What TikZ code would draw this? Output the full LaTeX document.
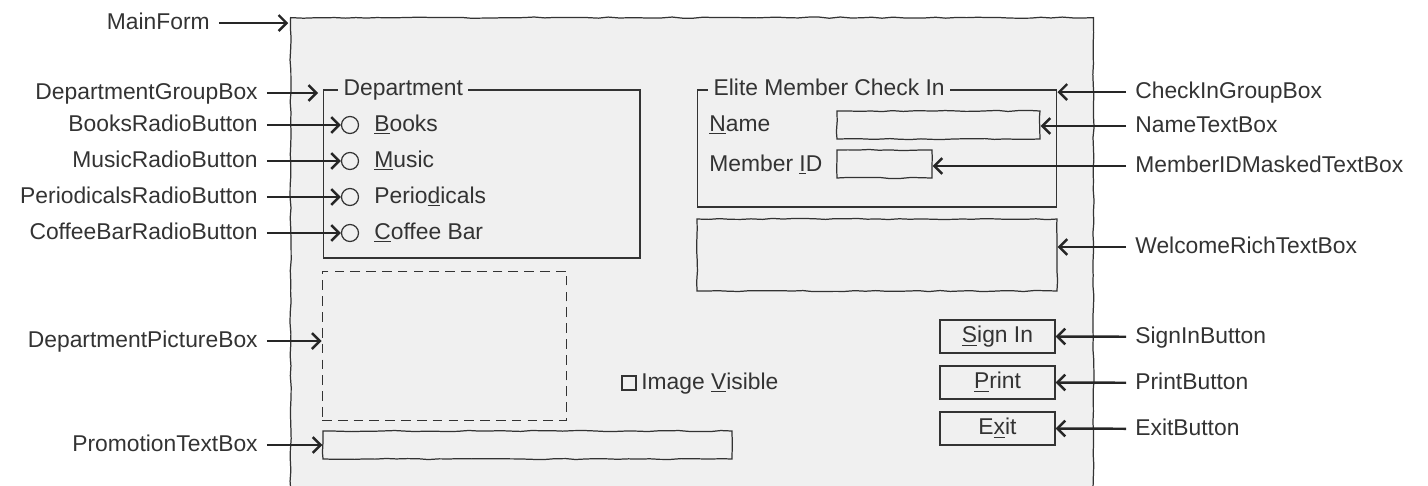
\documentclass[tikz,border=0pt]{standalone}
\usepackage{fontspec}
\setmainfont{Liberation Sans}
\usetikzlibrary{arrows.meta,decorations.pathmorphing}
\definecolor{formgray}{HTML}{F0F0F0}
\definecolor{inkgray}{HTML}{333333}
\pgfmathsetseed{7}

\begin{document}
\begin{tikzpicture}[x=0.02cm, y=-0.02cm,
    font=\fontsize{13}{15}\selectfont, text=inkgray,
    wobbly/.style={decorate, decoration={random steps, segment length=6pt, amplitude=0.35pt}},
    formbox/.style={draw=inkgray, fill=formgray, line width=0.7pt, wobbly, anchor=north west},
    groupbox/.style={draw=inkgray, line width=0.6pt},
    textbox/.style={draw=inkgray, line width=0.7pt, wobbly, minimum height=0.56cm},
    button/.style={draw=inkgray, line width=0.7pt, minimum width=2.3cm, minimum height=0.62cm, text height=9.5pt, text depth=2.5pt},
    radio/.style={circle, draw=inkgray, line width=0.7pt, minimum size=0.34cm, inner sep=0pt},
    title/.style={fill=formgray, inner sep=3pt, anchor=west, text height=9.5pt, text depth=2.5pt},
    caption/.style={anchor=west, inner sep=0pt, text height=9.5pt, text depth=2.5pt},
    leftlbl/.style={anchor=east, inner sep=0pt, text height=9.5pt, text depth=2.5pt},
    rightlbl/.style={anchor=west, inner sep=0pt, text height=9.5pt, text depth=2.5pt},
    arrow/.style={-{Straight Barb[length=4.5pt, width=9pt]}, line width=1.4pt, draw=black!85, shorten <=5pt}
  ]
  \useasboundingbox (0,0) rectangle (1428,485);
  \clip (0,0) rectangle (1428,485);

  % Main form (runs off the bottom)
  \node[formbox, minimum width=16.06cm, minimum height=10cm] (mainform) at (290,17) {};

  % Department group
  \node[groupbox, minimum width=6.34cm, minimum height=3.36cm] (deptgroup) at (481.5,174) {};
  \node[title] (depttitle) at (338,89) {Department};
  \node[radio] (booksradio) at (350,125) {};
  \node[caption] (bookstext) at (374,125) {\underline{B}ooks};
  \node[radio] (musicradio) at (350,161) {};
  \node[caption] (musictext) at (374,161) {\underline{M}usic};
  \node[radio] (periodicalsradio) at (350,197) {};
  \node[caption] (periodicalstext) at (374,197) {Perio\underline{d}icals};
  \node[radio] (coffeeradio) at (350,233) {};
  \node[caption] (coffeetext) at (374,233) {\underline{C}offee Bar};

  % Picture, check box, promotion
  \node[draw=inkgray, line width=0.55pt, dash pattern=on 5.5pt off 3.5pt, minimum width=4.9cm, minimum height=2.98cm] (deptpicture) at (444.5,345.5) {};
  \node[draw=inkgray, line width=0.7pt, minimum size=0.28cm, inner sep=0pt] (imagecheck) at (629,383) {};
  \node[caption] (imagetext) at (641,383) {Image \underline{V}isible};
  \node[textbox, minimum width=8.18cm] (promotion) at (527.5,445) {};

  % Check in group
  \node[groupbox, minimum width=7.2cm, minimum height=2.34cm] (checkingroup) at (877,148.5) {};
  \node[title] (checkintitle) at (708,89) {Elite Member Check In};
  \node[caption] (nametext) at (709,125) {\underline{N}ame};
  \node[textbox, minimum width=4.06cm] (namebox) at (938.5,125) {};
  \node[caption] (memberidtext) at (709,165) {Member \underline{I}D};
  \node[textbox, minimum width=1.9cm] (memberidbox) at (884.5,164) {};
  \node[textbox, minimum width=7.2cm, minimum height=1.44cm] (welcomebox) at (877,255) {};

  % Buttons
  \node[button] (signin) at (997.5,336.5) {\underline{S}ign In};
  \node[button] (print) at (997.5,382.5) {\underline{P}rint};
  \node[button] (exit) at (997.5,428.5) {E\underline{x}it};

  % Left labels
  \node[leftlbl] (mainformlbl) at (210,23) {MainForm};
  \node[leftlbl] (deptgrouplbl) at (258,93) {DepartmentGroupBox};
  \node[leftlbl] (bookslbl) at (258,125) {BooksRadioButton};
  \node[leftlbl] (musiclbl) at (258,161) {MusicRadioButton};
  \node[leftlbl] (periodicalslbl) at (258,197) {PeriodicalsRadioButton};
  \node[leftlbl] (coffeelbl) at (258,233) {CoffeeBarRadioButton};
  \node[leftlbl] (picturelbl) at (258,341) {DepartmentPictureBox};
  \node[leftlbl] (promotionlbl) at (258,445) {PromotionTextBox};

  % Right labels
  \node[rightlbl] (checkinlbl) at (1135,92) {CheckInGroupBox};
  \node[rightlbl] (namelbl) at (1135,126) {NameTextBox};
  \node[rightlbl] (memberidlbl) at (1135,166) {MemberIDMaskedTextBox};
  \node[rightlbl] (welcomelbl) at (1135,247) {WelcomeRichTextBox};
  \node[rightlbl] (signinlbl) at (1135,337) {SignInButton};
  \node[rightlbl] (printlbl) at (1135,383) {PrintButton};
  \node[rightlbl] (exitlbl) at (1135,429) {ExitButton};

  % Arrows from the left
  \draw[arrow, shorten >=1pt] (mainformlbl) -- (mainformlbl -| mainform.west);
  \draw[arrow, shorten >=2.5pt] (deptgrouplbl) -- (deptgrouplbl -| deptgroup.west);
  \draw[arrow] (bookslbl) -- (booksradio.west);
  \draw[arrow] (musiclbl) -- (musicradio.west);
  \draw[arrow] (periodicalslbl) -- (periodicalsradio.west);
  \draw[arrow] (coffeelbl) -- (coffeeradio.west);
  \draw[arrow] (picturelbl) -- (picturelbl -| deptpicture.west);
  \draw[arrow] (promotionlbl) -- (promotion.west);

  % Arrows from the right
  \draw[arrow] (checkinlbl) -- (checkinlbl -| checkingroup.east);
  \draw[arrow] (namelbl) -- (namelbl -| namebox.east);
  \draw[arrow] (memberidlbl) -- (memberidlbl -| memberidbox.east);
  \draw[arrow] (welcomelbl) -- (welcomelbl -| welcomebox.east);
  \draw[arrow] (signinlbl) -- (signin.east);
  \draw[arrow] (printlbl) -- (print.east);
  \draw[arrow] (exitlbl) -- (exit.east);

\end{tikzpicture}
\end{document}
